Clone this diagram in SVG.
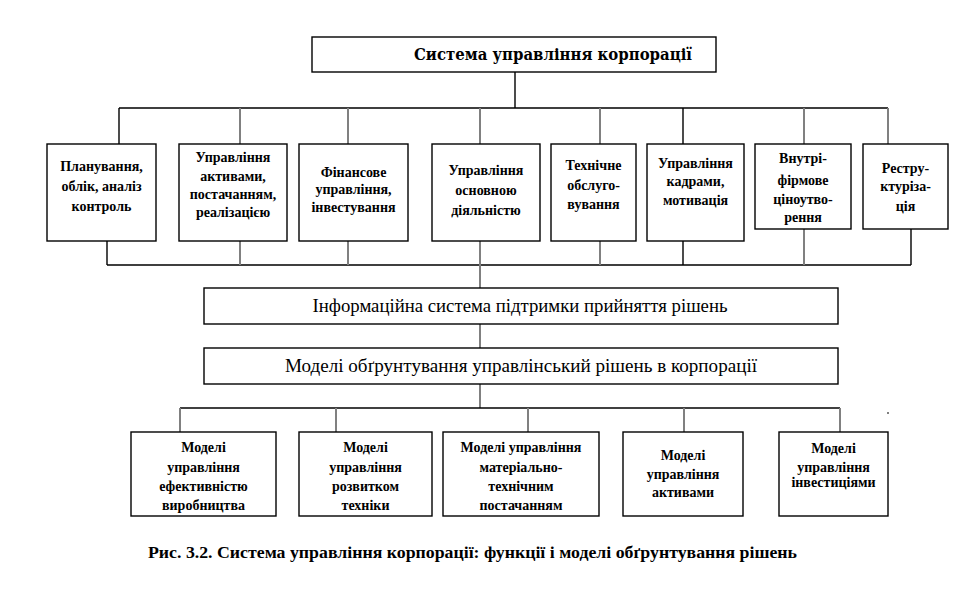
<svg xmlns="http://www.w3.org/2000/svg" width="960" height="600" viewBox="0 0 960 600">
<style>
.box{fill:#fff;stroke:#000;stroke-width:1.4}
.t{font-family:"Liberation Serif",serif;font-weight:bold;font-size:14px;text-anchor:middle;fill:#000}
.r{font-family:"Liberation Serif",serif;font-size:18px;text-anchor:middle;fill:#000}
.k{stroke:#000;stroke-width:1.4;fill:none}
.g{stroke:#808080;stroke-width:2;fill:none}
</style>
<rect width="960" height="600" fill="#fff"/>
<g id="connectors">
  <path class="k" d="M515 72V108M119 108H888M119 108V144M683 108V144"/>
  <path class="g" d="M240 108V144M348 108V144M480 108V144M600 108V144M804 108V144M888 108V144"/>
  <path class="k" d="M107 265H911M107 240V265M683 240V265M911 229V265"/>
  <path class="g" d="M240 240V265M348 240V265M480 240V288M600 240V265M804 229V265"/>
  <path class="g" d="M480 324V348M480 384V408"/>
  <path class="k" d="M180 408H840"/>
  <path class="g" d="M180 408V432M336 408V432M528 408V432M684 408V432M840 408V432"/>
  <path class="g" d="M887 413H889" stroke-width="1"/>
</g>
<g id="root">
  <rect class="box" x="312" y="37" width="404" height="35"/>
  <text x="553" y="60" font-family="DejaVu Serif" font-weight="bold" font-size="17" text-anchor="middle" textLength="278" lengthAdjust="spacingAndGlyphs">Система управління корпорації</text>
</g>
<g id="f1">
  <rect class="box" x="47" y="144" width="109" height="97"/>
  <text class="t"><tspan x="101.5" y="171">Планування,</tspan><tspan x="101.5" y="191">облік, аналіз</tspan><tspan x="101.5" y="211">контроль</tspan></text>
</g>
<g id="f2">
  <rect class="box" x="179" y="144" width="108" height="97"/>
  <text class="t"><tspan x="233" y="162">Управління</tspan><tspan x="233" y="181">активами,</tspan><tspan x="233" y="199">постачанням,</tspan><tspan x="233" y="217">реалізацією</tspan></text>
</g>
<g id="f3">
  <rect class="box" x="299" y="144" width="109" height="97"/>
  <text class="t"><tspan x="353.5" y="177">Фінансове</tspan><tspan x="353.5" y="194">управління,</tspan><tspan x="353.5" y="212">інвестування</tspan></text>
</g>
<g id="f4">
  <rect class="box" x="432" y="144" width="108" height="97"/>
  <text class="t"><tspan x="486" y="175">Управління</tspan><tspan x="486" y="195">основною</tspan><tspan x="486" y="215">діяльністю</tspan></text>
</g>
<g id="f5">
  <rect class="box" x="551" y="144" width="85" height="97"/>
  <text class="t"><tspan x="593.5" y="170">Технічне</tspan><tspan x="593.5" y="190">обслуго-</tspan><tspan x="593.5" y="209">вування</tspan></text>
</g>
<g id="f6">
  <rect class="box" x="647" y="144" width="97" height="97"/>
  <text class="t"><tspan x="695.5" y="168">Управління</tspan><tspan x="695.5" y="186">кадрами,</tspan><tspan x="695.5" y="205">мотивація</tspan></text>
</g>
<g id="f7">
  <rect class="box" x="755" y="144" width="96" height="85"/>
  <text class="t"><tspan x="803" y="163">Внутрі-</tspan><tspan x="803" y="185">фірмове</tspan><tspan x="803" y="204">ціноутво-</tspan><tspan x="803" y="222">рення</tspan></text>
</g>
<g id="f8">
  <rect class="box" x="863" y="144" width="85" height="85"/>
  <text class="t"><tspan x="905.5" y="173">Рестру-</tspan><tspan x="905.5" y="191">ктуріза-</tspan><tspan x="905.5" y="211">ція</tspan></text>
</g>
<g id="info">
  <rect class="box" x="204" y="288" width="634" height="36"/>
  <text x="520" y="312" font-family="Liberation Serif" font-size="18" text-anchor="middle" textLength="415" lengthAdjust="spacingAndGlyphs">Інформаційна система підтримки прийняття рішень</text>
</g>
<g id="models">
  <rect class="box" x="204" y="348" width="634" height="36"/>
  <text x="521" y="372" font-family="Times New Roman" font-size="18" text-anchor="middle" textLength="472" lengthAdjust="spacingAndGlyphs">Моделі обґрунтування управлінський рішень в корпорації</text>
</g>
<g id="m1">
  <rect class="box" x="131" y="432" width="145" height="84"/>
  <text class="t"><tspan x="203.5" y="452">Моделі</tspan><tspan x="203.5" y="472">управління</tspan><tspan x="203.5" y="491">ефективністю</tspan><tspan x="203.5" y="510">виробництва</tspan></text>
</g>
<g id="m2">
  <rect class="box" x="299" y="432" width="133" height="84"/>
  <text class="t"><tspan x="365.5" y="452">Моделі</tspan><tspan x="365.5" y="472">управління</tspan><tspan x="365.5" y="491">розвитком</tspan><tspan x="365.5" y="510">техніки</tspan></text>
</g>
<g id="m3">
  <rect class="box" x="443" y="432" width="156" height="84"/>
  <text class="t"><tspan x="521" y="452">Моделі управління</tspan><tspan x="521" y="472">матеріально-</tspan><tspan x="521" y="491">технічним</tspan><tspan x="521" y="510">постачанням</tspan></text>
</g>
<g id="m4">
  <rect class="box" x="623" y="432" width="120" height="84"/>
  <text class="t"><tspan x="683" y="460">Моделі</tspan><tspan x="683" y="479">управління</tspan><tspan x="683" y="497">активами</tspan></text>
</g>
<g id="m5">
  <rect class="box" x="779" y="432" width="109" height="84"/>
  <text class="t"><tspan x="833.5" y="453">Моделі</tspan><tspan x="833.5" y="472">управління</tspan><tspan x="833.5" y="487">інвестиціями</tspan></text>
</g>
<text class="t" x="472.5" y="558" style="font-size:16px" textLength="649" lengthAdjust="spacingAndGlyphs">Рис. 3.2. Система управління корпорації: функції і моделі обґрунтування рішень</text>
</svg>
